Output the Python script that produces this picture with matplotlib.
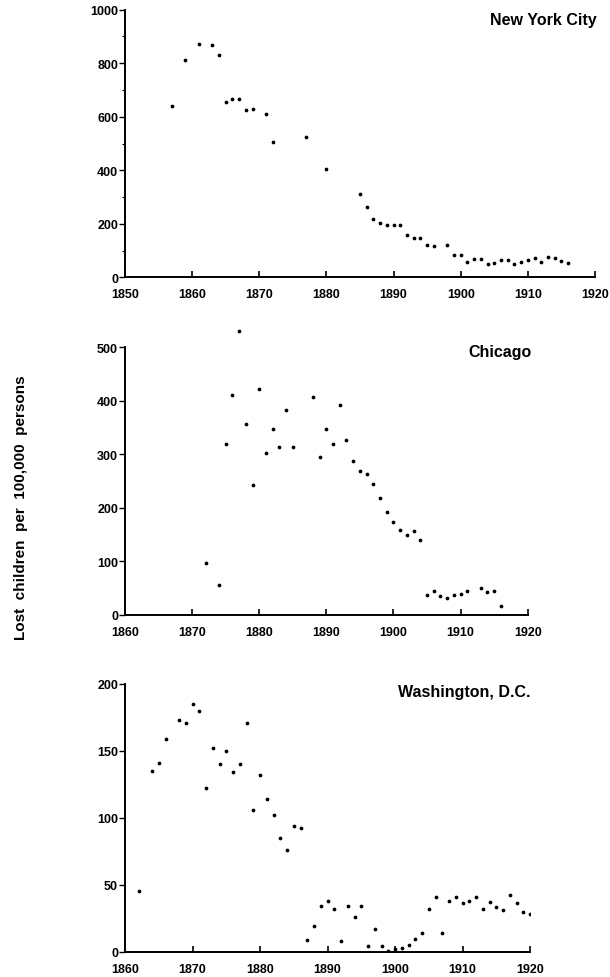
import matplotlib
matplotlib.use("Agg")
import matplotlib.pyplot as plt
from matplotlib.ticker import MultipleLocator

plt.rcParams['font.family'] = ['Liberation Sans', 'DejaVu Sans']
plt.rcParams['font.weight'] = 'bold'

# ---- Data ----
nyc_years = [1857, 1859, 1861, 1863, 1864, 1865, 1866, 1867, 1868, 1869, 1871, 1872,
             1877, 1880, 1885, 1886, 1887, 1888, 1889, 1890, 1891, 1892, 1893, 1894,
             1895, 1896, 1898, 1899, 1900, 1901, 1902, 1903, 1904, 1905, 1906, 1907,
             1908, 1909, 1910, 1911, 1912, 1913, 1914, 1915, 1916]
nyc_values = [641, 811, 870, 868, 829, 654, 665, 667, 624, 629, 611, 506,
              523, 406, 310, 262, 219, 203, 194, 194, 194, 159, 148, 146,
              121, 118, 121, 83, 83, 59, 67, 67, 50, 54, 66, 65,
              51, 57, 65, 73, 57, 77, 73, 61, 52]

chi_years = [1872, 1874, 1875, 1876, 1877, 1878, 1879, 1880, 1881, 1882, 1883, 1884,
             1885, 1888, 1889, 1890, 1891, 1892, 1893, 1894, 1895, 1896, 1897, 1898,
             1899, 1900, 1901, 1902, 1903, 1904, 1905, 1906, 1907, 1908, 1909, 1910,
             1911, 1913, 1914, 1915, 1916]
chi_values = [97, 55, 319, 410, 529, 357, 243, 421, 302, 346, 313, 382,
              313, 407, 295, 347, 319, 392, 327, 287, 269, 263, 245, 218,
              192, 174, 158, 148, 157, 139, 37, 44, 35, 32, 36, 39,
              45, 50, 42, 44, 17]

dc_years = [1862, 1864, 1865, 1866, 1868, 1869, 1870, 1871, 1872, 1873, 1874, 1875,
            1876, 1877, 1878, 1879, 1880, 1881, 1882, 1883, 1884, 1885, 1886, 1887,
            1888, 1889, 1890, 1891, 1892, 1893, 1894, 1895, 1896, 1897, 1898, 1899,
            1900, 1901, 1902, 1903, 1904, 1905, 1906, 1907, 1908, 1909, 1910, 1911,
            1912, 1913, 1914, 1915, 1916, 1917, 1918, 1919, 1920]
dc_values = [45, 135, 141, 159, 173, 171, 185, 180, 122, 152, 140, 150,
             134, 140, 171, 106, 132, 114, 102, 85, 76, 94, 92, 8.5,
             19.5, 34, 38, 32, 8, 34, 26, 34, 4.5, 17, 4.5, 0.7,
             2, 2.5, 4.7, 9.5, 14, 32, 40.5, 13.7, 37.6, 41, 36.6, 37.6,
             41, 32, 37, 33, 31, 42, 36, 30, 28]

panels = [
    dict(name="New York City", years=nyc_years, values=nyc_values,
         xlim=(1850, 1920), ylim=(0, 1000), ytop=1000, major=200, minor=100),
    dict(name="Chicago", years=chi_years, values=chi_values,
         xlim=(1860, 1920), ylim=(0, 540), ytop=500, major=100, minor=None),
    dict(name="Washington, D.C.", years=dc_years, values=dc_values,
         xlim=(1860, 1920), ylim=(0, 200), ytop=200, major=50, minor=None),
]

W, H = 610, 978
fig = plt.figure(figsize=(W / 100, H / 100), dpi=100)

# axes rectangles in pixels: (left, right, bottom, top-of-ylim)
rects = [
    (125, 595, 278.3, 10.7),
    (125, 527.7, 615.7, 615.7 - 267.7 * 540 / 500),
    (125, 530, 952.7, 684.7),
]

for p, (l, r, b, t) in zip(panels, rects):
    ax = fig.add_axes([l / W, 1 - b / H, (r - l) / W, (b - t) / H])
    ax.plot(p["years"], p["values"], linestyle='none', marker='o',
            markersize=1.7, color='black')
    ax.set_xlim(*p["xlim"])
    ax.set_ylim(*p["ylim"])
    for s in ("top", "right"):
        ax.spines[s].set_visible(False)
    for s in ("left", "bottom"):
        ax.spines[s].set_linewidth(1.4)
    ax.spines["left"].set_bounds(0, p["ytop"])
    ax.xaxis.set_major_locator(MultipleLocator(10))
    ax.yaxis.set_major_locator(MultipleLocator(p["major"]))
    if p["minor"]:
        ax.yaxis.set_minor_locator(MultipleLocator(p["minor"]))
    ax.tick_params(axis='x', direction='in', length=4, width=1.2, pad=8,
                   labelsize=9)
    ax.tick_params(axis='y', direction='out', length=4, width=1.0, pad=1,
                   labelsize=9)
    ax.tick_params(axis='y', which='minor', direction='out', length=2.5, width=0.8)
    for lab in ax.get_xticklabels() + ax.get_yticklabels():
        lab.set_fontweight('bold')
    ax.patch.set_visible(False)

fig.text(597 / W, 1 - 21 / H, "New York City", ha='right', va='center',
         fontsize=11.5, fontweight='bold')
fig.text(532 / W, 1 - 353 / H, "Chicago", ha='right', va='center',
         fontsize=11.5, fontweight='bold')
fig.text(531 / W, 1 - 693 / H, "Washington, D.C.", ha='right', va='center',
         fontsize=11.5, fontweight='bold')

fig.text(21 / W, 1 - 508 / H, "Lost  children  per  100,000  persons",
         rotation=90, ha='center', va='center', fontsize=11, fontweight='bold')

fig.savefig("out.png", dpi=100, facecolor='white')
